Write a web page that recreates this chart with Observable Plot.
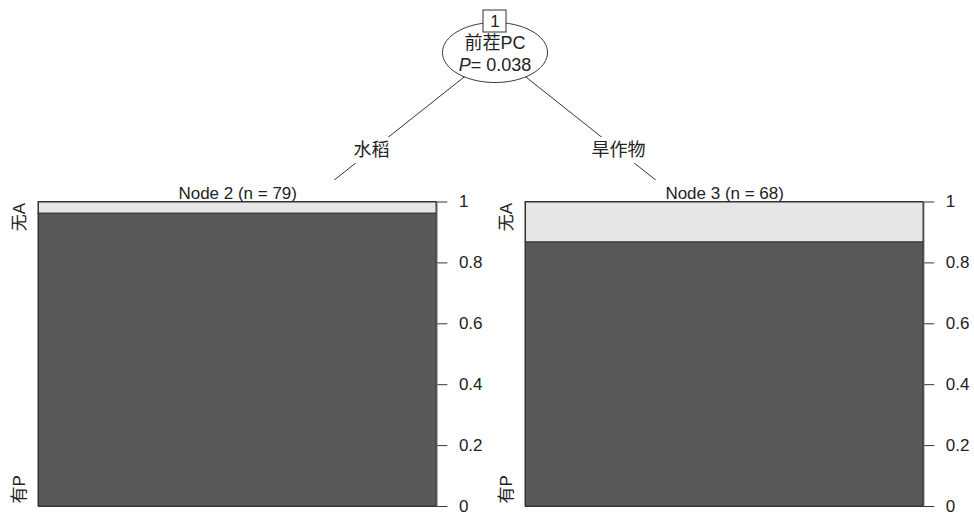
<!DOCTYPE html>
<html>
<head>
<meta charset="utf-8">
<script src="https://cdn.jsdelivr.net/npm/d3@7"></script>
<script src="https://cdn.jsdelivr.net/npm/@observablehq/plot@0.6"></script>
<style>
html, body { margin: 0; padding: 0; background: #fff; }
#chart { position: relative; width: 974px; height: 517px; overflow: hidden; background: #fff; }
#chart > svg { position: absolute; }
</style>
</head>
<body>
<div id="chart"></div>
<script>
// ---------------- data ----------------
const rootId = 1;
const splitVariable = "前茬PC";
const splitPValue = 0.038;
const branchLabels = ["水稻", "旱作物"];
const terminalIds = [2, 3];
const terminalN = [79, 68];
const classLabels = ["有P", "无A"];
const countHaveP = [76, 59];
const countNoA = [3, 9];
const yTicks = [0, 0.2, 0.4, 0.6, 0.8, 1];

// ---------------- layout & style ----------------
const W = 974, H = 517;
const FONT = '"Liberation Sans", Arial, "Noto Sans CJK SC", sans-serif';
const FS = 17;
const TFS = 18;
const INK = "#222";
const LINE = "#333";
const TREE = { cx: 494.5, cy: 52, rx: 52.5, ry: 30, spread: 247, childY: 248, viewTop: 180,
               boxTop: 10, boxBottom: 32, boxHalf: 11.5, line1: 43, line2: 65 };
const PANELS = [{ left: 38.3, right: 436.7 }, { left: 525, right: 923.3 }];
const PANEL_TOP = 201.5, PANEL_BOTTOM = 506;
const ML = 40, MR = 50;
const FILLS = ["#595959", "#e6e6e6"];

const chart = document.getElementById("chart");

// ---------------- tree (inner node + edges) ----------------
const nT = terminalIds.length;
const children = terminalIds.map((id, i) => ({
  id,
  x: TREE.cx + (i - (nT - 1) / 2) * 2 * TREE.spread,
  y: TREE.childY
}));
const edges = children.map((c, i) => ({
  x1: TREE.cx, y1: TREE.cy, x2: c.x, y2: c.y,
  mx: (TREE.cx + c.x) / 2, my: (TREE.cy + c.y) / 2,
  label: branchLabels[i]
}));
const labelW = s => [...s].reduce((a, ch) => a + (/[\u3000-\u9fff]/.test(ch) ? TFS : TFS * 0.6), 0);
const labelBoxes = edges.map(e => ({
  x1: e.mx - labelW(e.label) / 2 - 1, x2: e.mx + labelW(e.label) / 2 + 1,
  y1: e.my - 13, y2: e.my + 13
}));
const ellipse = d3.range(0, 121).map(k => {
  const t = (k / 120) * 2 * Math.PI;
  return { x: TREE.cx + TREE.rx * Math.cos(t), y: TREE.cy + TREE.ry * Math.sin(t) };
});
const rootLines = [
  { y: TREE.line1, text: splitVariable },
  { y: TREE.line2, text: `P= ${splitPValue.toFixed(3)}` }
];

const tree = Plot.plot({
  width: W, height: TREE.viewTop, margin: 0,
  style: { fontFamily: FONT, fontSize: TFS + "px", color: INK, background: "transparent", overflow: "hidden" },
  x: { domain: [0, W], range: [0, W], axis: null },
  y: { domain: [0, TREE.viewTop], range: [0, TREE.viewTop], axis: null },
  marks: [
    Plot.link(edges, { x1: "x1", y1: "y1", x2: "x2", y2: "y2", stroke: LINE, strokeWidth: 1 }),
    Plot.rect(labelBoxes, { x1: "x1", x2: "x2", y1: "y1", y2: "y2", fill: "white" }),
    Plot.text(edges, { x: "mx", y: "my", text: "label", fill: INK, fontSize: TFS }),
    Plot.line(ellipse, { x: "x", y: "y", fill: "white", stroke: LINE, strokeWidth: 1 }),
    Plot.text(rootLines, { x: () => TREE.cx, y: "y", text: "text", fill: INK, fontSize: TFS }),
    Plot.rect([rootId], { x1: () => TREE.cx - TREE.boxHalf, x2: () => TREE.cx + TREE.boxHalf,
      y1: () => TREE.boxTop, y2: () => TREE.boxBottom, fill: "white", stroke: LINE, strokeWidth: 1 }),
    Plot.text([rootId], { x: () => TREE.cx, y: () => (TREE.boxTop + TREE.boxBottom) / 2, text: d => String(d), fill: INK, fontSize: FS })
  ]
});
tree.style.left = "0px";
tree.style.top = "0px";
// italic P in the p-value line
tree.querySelectorAll("text").forEach(el => {
  if (el.textContent === rootLines[1].text) {
    el.textContent = "";
    const ns = "http://www.w3.org/2000/svg";
    const a = document.createElementNS(ns, "tspan");
    a.setAttribute("font-style", "italic");
    a.textContent = "P";
    const b = document.createElementNS(ns, "tspan");
    b.textContent = rootLines[1].text.slice(1);
    el.appendChild(a); el.appendChild(b);
  }
});
chart.appendChild(tree);

// ---------------- terminal panels ----------------
terminalIds.forEach((id, i) => {
  const p = PANELS[i];
  const n = terminalN[i];
  const rows = [
    { cls: classLabels[0], share: countHaveP[i] / n },
    { cls: classLabels[1], share: countNoA[i] / n }
  ];
  const plot = Plot.plot({
    width: ML + (p.right - p.left) + MR,
    height: H - TREE.viewTop,
    marginLeft: ML, marginRight: MR,
    marginTop: PANEL_TOP - TREE.viewTop, marginBottom: H - PANEL_BOTTOM,
    style: { fontFamily: FONT, fontSize: FS + "px", color: INK, background: "white", overflow: "visible" },
    x: { type: "band", domain: ["all"], padding: 0, axis: null },
    y: { domain: [0, 1], axis: null },
    color: { type: "ordinal", domain: classLabels, range: FILLS },
    marks: [
      Plot.barY(rows, { x: () => "all", y: "share", fill: "cls", stroke: LINE, strokeWidth: 1 }),
      Plot.frame({ stroke: LINE, strokeWidth: 1 }),
      Plot.axisY(yTicks, { anchor: "right", label: null, tickSize: 10, tickPadding: 12, stroke: LINE,
        tickFormat: d => String(d), fill: INK, fontSize: FS }),
      Plot.text([`Node ${id} (n = ${n})`], { frameAnchor: "top", lineAnchor: "bottom", dy: -3, text: d => d, fill: INK }),
      Plot.text([classLabels[1]], { frameAnchor: "top-left", rotate: -90, textAnchor: "end",
        lineAnchor: "middle", dx: -19, dy: 1, text: d => d, fill: INK }),
      Plot.text([classLabels[0]], { frameAnchor: "bottom-left", rotate: -90, textAnchor: "start",
        lineAnchor: "middle", dx: -19, dy: -3, text: d => d, fill: INK })
    ]
  });
  plot.style.left = (p.left - ML) + "px";
  plot.style.top = TREE.viewTop + "px";
  chart.appendChild(plot);
});
</script>
</body>
</html>
